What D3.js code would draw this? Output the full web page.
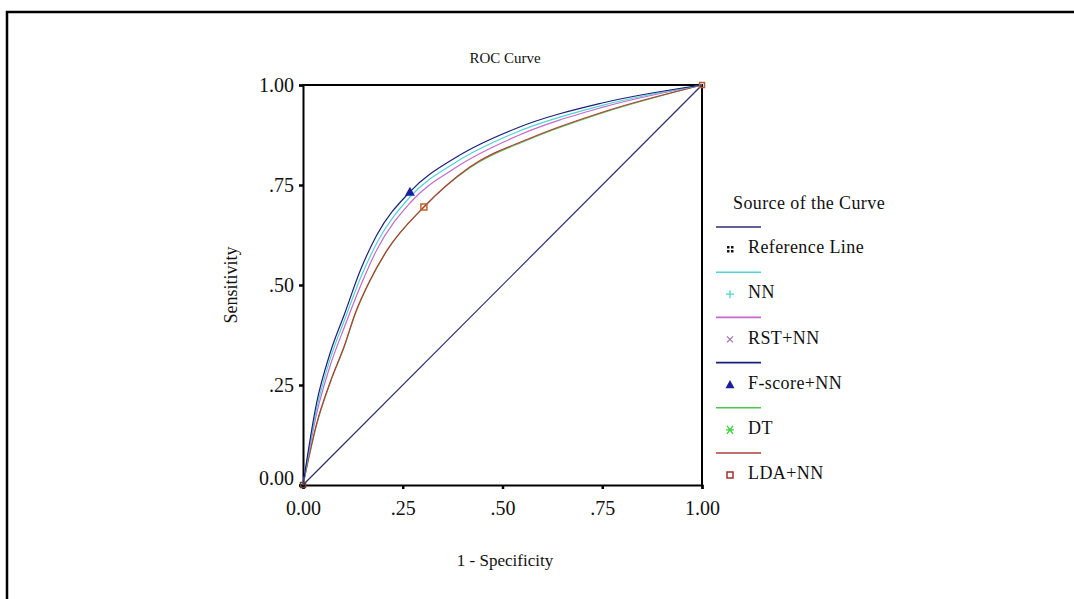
<!DOCTYPE html>
<html>
<head>
<meta charset="utf-8">
<script src="https://cdn.jsdelivr.net/npm/d3@7"></script>
<style>
  body { margin: 0; background: #fff; }
  text { font-family: "Liberation Serif", "Times New Roman", serif; fill: #111; }
  .tick-label { font-size: 20px; }
  .axis-title { font-size: 17px; }
  .chart-title { font-size: 15px; }
  .legend-caption { font-size: 18px; letter-spacing: 0.4px; }
</style>
</head>
<body>
<svg id="chart" width="1074" height="599"></svg>
<script>
// ROC points (1 - specificity, sensitivity)
const seriesNames = ["Reference Line", "NN", "RST+NN", "F-score+NN", "DT", "LDA+NN"];
const seriesColors = ["#2b2b6e", "#4fd3d3", "#c46ac8", "#1c1f7a", "#4cc54c", "#b53a3a"];

const refFpr = [0, 1];
const refTpr = [0, 1];

const nnFpr = [0, 0.034, 0.068, 0.105, 0.143, 0.185, 0.268, 0.385, 0.535, 0.75, 1];
const nnTpr = [0, 0.19, 0.315, 0.415, 0.515, 0.605, 0.72, 0.808, 0.882, 0.949, 1];

const rstFpr = [0, 0.034, 0.068, 0.105, 0.143, 0.185, 0.268, 0.385, 0.535, 0.75, 1];
const rstTpr = [0, 0.178, 0.298, 0.398, 0.495, 0.588, 0.705, 0.795, 0.872, 0.944, 1];

const fsFpr = [0, 0.034, 0.068, 0.105, 0.143, 0.185, 0.268, 0.385, 0.535, 0.75, 1];
const fsTpr = [0, 0.205, 0.33, 0.43, 0.535, 0.625, 0.733, 0.82, 0.892, 0.955, 1];

const dtFpr = [0, 0.034, 0.068, 0.105, 0.13, 0.168, 0.21, 0.303, 0.418, 0.569, 0.75, 1];
const dtTpr = [0, 0.15, 0.255, 0.35, 0.425, 0.51, 0.585, 0.695, 0.793, 0.865, 0.93, 1];

const ldaFpr = [0, 0.034, 0.068, 0.105, 0.13, 0.168, 0.21, 0.303, 0.418, 0.569, 0.75, 1];
const ldaTpr = [0, 0.153, 0.257, 0.352, 0.427, 0.512, 0.586, 0.695, 0.795, 0.867, 0.932, 1];

// marked cut-off points
const fsMark = [0.268, 0.733];
const ldaMark = [0.303, 0.695];

const tickValues = [0, 0.25, 0.5, 0.75, 1];
const tickLabels = ["0.00", ".25", ".50", ".75", "1.00"];

const svg = d3.select("#chart");

// outer frame
svg.append("rect")
  .attr("x", 7)
  .attr("y", 12)
  .attr("width", 1200)
  .attr("height", 800)
  .attr("fill", "none")
  .attr("stroke", "#000")
  .attr("stroke-width", 2.5);

const x = d3.scaleLinear().domain([0, 1]).range([303, 702]);
const y = d3.scaleLinear().domain([0, 1]).range([485, 85]);

// title
svg.append("text")
  .attr("class", "chart-title")
  .attr("x", 505)
  .attr("y", 63)
  .attr("text-anchor", "middle")
  .text("ROC Curve");

// box around plot (top + right)
svg.append("path")
  .attr("d", `M${x(0)},${y(1)}H${x(1)}V${y(0)}`)
  .attr("fill", "none")
  .attr("stroke", "#000")
  .attr("stroke-width", 2);

// axes
const xAxis = d3.axisBottom(x).tickValues(tickValues).tickSize(4).tickPadding(8)
  .tickFormat((d, i) => tickLabels[i]);
const yAxis = d3.axisLeft(y).tickValues(tickValues).tickSize(4).tickPadding(5)
  .tickFormat((d, i) => tickLabels[i]);

const gx = svg.append("g").attr("transform", `translate(0,${y(0)})`).call(xAxis);
const gy = svg.append("g").attr("transform", `translate(${x(0)},0)`).call(yAxis);

[gx, gy].forEach(g => {
  g.select(".domain").attr("stroke", "#000").attr("stroke-width", 2);
  g.selectAll(".tick line").attr("stroke", "#000").attr("stroke-width", 2.5);
  g.selectAll(".tick text")
    .attr("class", "tick-label")
    .attr("fill", "#111")
    .style("font-family", "'Liberation Serif', serif")
    .style("font-size", "20px");
});
// SPSS lifts the bottom y label a bit
gy.selectAll(".tick text").filter(d => d === 0).attr("dy", "-0.05em");
gx.selectAll(".tick text").attr("dy", "0.9em");

// axis titles
svg.append("text")
  .attr("class", "axis-title")
  .attr("x", 505)
  .attr("y", 566)
  .attr("text-anchor", "middle")
  .text("1 - Specificity");

svg.append("text")
  .attr("class", "axis-title")
  .attr("transform", `translate(237,${y(0.5)}) rotate(-90)`)
  .attr("text-anchor", "middle")
  .style("font-size", "18px")
  .text("Sensitivity");

// curves (green DT drawn under the red LDA+NN, as in the source)
const line = d3.line().x(d => x(d[0])).y(d => y(d[1])).curve(d3.curveMonotoneX);
const curves = [
  [refFpr, refTpr],
  [dtFpr, dtTpr],
  [ldaFpr, ldaTpr],
  [rstFpr, rstTpr],
  [nnFpr, nnTpr],
  [fsFpr, fsTpr]
];
const curveColors = [seriesColors[0], seriesColors[4], seriesColors[5], seriesColors[2], seriesColors[1], seriesColors[3]];

const plot = svg.append("g");
curves.forEach((c, i) => {
  plot.append("path")
    .datum(c[0].map((v, j) => [v, c[1][j]]))
    .attr("d", line)
    .attr("fill", "none")
    .attr("stroke", curveColors[i])
    .attr("stroke-width", 1.2);
});

// cut-off markers
function triangle(g, cx, cy, color, s) {
  g.append("path")
    .attr("d", `M${cx},${cy - s}L${cx + s},${cy + s * 0.8}L${cx - s},${cy + s * 0.8}Z`)
    .attr("fill", color);
}
function square(g, cx, cy, color, s) {
  g.append("rect")
    .attr("x", cx - s).attr("y", cy - s)
    .attr("width", s * 2).attr("height", s * 2)
    .attr("fill", "none")
    .attr("stroke", color)
    .attr("stroke-width", 1.5);
}
function quad(g, cx, cy, color) {
  [[-3, -3], [1, -3], [-3, 1], [1, 1]].forEach(o => {
    g.append("rect")
      .attr("x", cx + o[0]).attr("y", cy + o[1])
      .attr("width", 2.5).attr("height", 2.5)
      .attr("fill", color);
  });
}
function plus(g, cx, cy, color) {
  g.append("path")
    .attr("d", `M${cx - 4},${cy}H${cx + 4}M${cx},${cy - 4}V${cy + 4}`)
    .attr("stroke", color).attr("stroke-width", 1.3);
}
function cross(g, cx, cy, color) {
  g.append("path")
    .attr("d", `M${cx - 3},${cy - 3}L${cx + 3},${cy + 3}M${cx + 3},${cy - 3}L${cx - 3},${cy + 3}`)
    .attr("stroke", color).attr("stroke-width", 1.2);
}
function star(g, cx, cy, color) {
  g.append("path")
    .attr("d", `M${cx - 4},${cy}H${cx + 4}M${cx - 3},${cy - 4}L${cx + 3},${cy + 4}M${cx + 3},${cy - 4}L${cx - 3},${cy + 4}`)
    .attr("stroke", color).attr("stroke-width", 1.3);
}

triangle(plot, x(fsMark[0]), y(fsMark[1]), "#1a1fa0", 5);
square(plot, x(ldaMark[0]), y(ldaMark[1]), "#c0602a", 3);
square(plot, x(1), y(1), "#b0603a", 2.5);
square(plot, x(0), y(0), "#704030", 2.5);

// Legend
const legendX = 716;
const legendTop = 209;
const rowH = 45.2;
const legend = svg.append("g");

legend.append("text")
  .attr("class", "legend-caption")
  .attr("x", 733)
  .attr("y", legendTop)
  .text("Source of the Curve");

const markerFns = [quad, plus, cross, (g, cx, cy, c) => triangle(g, cx, cy, c, 4.5), star, (g, cx, cy, c) => square(g, cx, cy, c, 3)];
const markerColors = ["#111", "#4fd3d3", "#a070b0", "#1a1fa0", "#3ccf3c", "#a03030"];

seriesNames.forEach((name, i) => {
  const ly = 227 + i * rowH;
  legend.append("line")
    .attr("x1", legendX).attr("x2", legendX + 45)
    .attr("y1", ly).attr("y2", ly)
    .attr("stroke", seriesColors[i])
    .attr("stroke-width", 1.6);
  markerFns[i](legend, 730, ly + 22, markerColors[i]);
  legend.append("text")
    .attr("class", "legend-caption")
    .attr("x", 748)
    .attr("y", ly + 22)
    .attr("dominant-baseline", "middle")
    .text(name);
});
</script>
</body>
</html>
